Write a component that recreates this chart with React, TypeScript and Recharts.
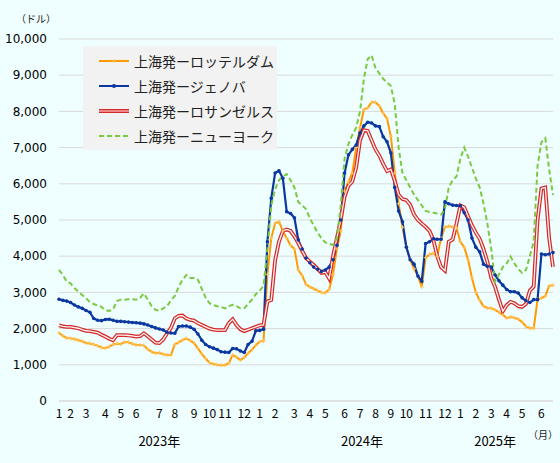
import { LineChart, Line, XAxis, YAxis, CartesianGrid, Legend } from "recharts";

// weekly rates (USD / 40ft), Jan 2023 - Jun 2025
const rotterdam = [
  1880, 1800, 1740, 1730, 1710, 1680, 1650, 1600, 1590, 1560,
  1530, 1480, 1460, 1500, 1560, 1590, 1570, 1630, 1620, 1580,
  1550, 1550, 1530, 1430, 1360, 1320, 1330, 1290, 1270, 1270,
  1560, 1620, 1680, 1730, 1670, 1600, 1450, 1300, 1170, 1060,
  1020, 1000, 990, 990, 1050, 1270, 1210, 1130, 1200, 1320,
  1420, 1540, 1640, 1660, 3500, 4500, 4910, 4950, 4700, 4500,
  4300, 4200, 3620, 3470, 3220, 3150, 3100, 3050, 3000, 2990,
  3080, 3500, 4200, 4700, 5800, 6050, 6300, 7000, 7550, 8050,
  8100, 8250, 8250, 8150, 7950, 7800, 7300, 6300, 5450, 4800,
  4250, 3900, 3650, 3450, 3150, 3960, 4050, 4080, 4000, 4500,
  4800, 4830, 4810, 4780, 4400, 4250, 3900, 3400, 3000, 2780,
  2620, 2570, 2560, 2520, 2450, 2380, 2290, 2320, 2300, 2260,
  2180, 2060, 2010, 2010, 2800, 2840, 2900, 3180, 3200,
];

const genoa = [
  2810, 2780, 2760, 2720, 2650, 2600, 2560, 2500, 2450, 2280,
  2230, 2220, 2250, 2260, 2230, 2200, 2200, 2190, 2180, 2170,
  2160, 2150, 2130, 2100, 2060, 2020, 1990, 1960, 1900, 1880,
  1870, 2060, 2070, 2070, 2040, 1980, 1850, 1680, 1560, 1500,
  1460, 1420, 1360, 1350, 1340, 1450, 1440, 1380, 1340, 1560,
  1650, 1940, 1950, 1980, 4400, 5600, 6300, 6360, 6150, 5230,
  5180, 5060, 4450, 4200, 3950, 3820, 3700, 3640, 3580, 3620,
  3700, 3900, 4300, 5000, 6300, 6800, 6950, 7070, 7400, 7600,
  7700, 7680, 7600, 7580, 7300, 7160, 6850, 5900, 5250, 4950,
  4250, 3900, 3780, 3450, 3310, 4350, 4400, 4480, 4470, 4470,
  5500, 5450, 5410, 5400, 5390, 5200, 5000, 4500, 4250, 4120,
  3780, 3720, 3700, 3480, 3320, 3200, 3080, 3020, 3020, 2980,
  2850, 2770, 2720, 2800, 2800, 4060, 4040, 4060, 4100,
];

const losAngeles = [
  2090, 2060, 2050, 2050, 2030, 2010, 1970, 1940, 1930, 1910,
  1890, 1830, 1780, 1720, 1680, 1820, 1820, 1820, 1810, 1800,
  1780, 1790, 1870, 1790, 1700, 1610, 1600, 1700, 1870, 2020,
  2280, 2350, 2360, 2280, 2240, 2220, 2150, 2100, 2050, 2000,
  1970, 1960, 1960, 1960, 2150, 2260, 2100, 1980, 1930, 1970,
  2010, 2050, 2090, 2100, 2750, 2790, 3890, 4400, 4700, 4740,
  4700, 4550, 4360, 4150, 3950, 3850, 3760, 3650, 3540, 3560,
  3380, 4000, 4500, 5000, 5640, 5950, 6060, 6450, 7200, 7480,
  7460, 7200, 6950, 6780, 6550, 6350, 6400, 6080, 5700, 5580,
  5550, 5420, 5150, 5000, 4900, 4810, 4700, 4450, 4000, 3700,
  3600, 4400, 4460, 4900, 5400, 5350, 5100, 4850, 4650, 4480,
  4200, 3850, 3400, 3150, 2800, 2480, 2650, 2740, 2700, 2620,
  2600, 2680, 3050, 3160, 5000, 5870, 5900, 4500, 3700,
];

const newYork = [
  3620, 3480, 3300, 3250, 3120, 3020, 2930, 2840, 2730, 2680,
  2640, 2600, 2500, 2490, 2530, 2760, 2800, 2800, 2810, 2810,
  2800, 2850, 2970, 2800, 2620, 2520, 2490, 2560, 2620, 2780,
  2900, 3150, 3350, 3480, 3400, 3400, 3350, 3100, 2850, 2700,
  2650, 2620, 2600, 2560, 2620, 2660, 2620, 2560, 2560, 2680,
  2800, 2950, 3050, 3180, 4200, 5400, 5850, 6100, 6200, 6270,
  6100, 5900, 5500, 5400, 5300, 5050, 4850, 4650, 4500, 4380,
  4340, 4310, 4500, 5400, 6700, 7100, 7350, 7550, 8000, 8900,
  9450, 9550, 9200, 9050, 8900, 8800, 8700, 8200, 7000, 6300,
  6100, 5900, 5700, 5550, 5400, 5250, 5220, 5200, 5180, 5150,
  5300, 5900, 6100, 6200, 6700, 7000, 6750, 6450, 6150, 5900,
  5450, 4900, 4200, 3300, 3500, 3700, 3800, 3990, 3800, 3650,
  3540, 3620, 4000, 4400, 6500, 7150, 7260, 6400, 5690,
];

const seriesNames = [
  "上海発ーロッテルダム",
  "上海発ージェノバ",
  "上海発ーロサンゼルス",
  "上海発ーニューヨーク",
];

const monthTickWeeks = [
  0, 3, 7, 12, 16, 20, 26, 30, 35, 39, 43, 48,
  52, 56, 61, 65, 69, 74, 78, 82, 86, 90, 95, 100,
  104, 108, 112, 116, 120, 125,
];
const monthLabels = [
  "1", "2", "3", "4", "5", "6", "7", "8", "9", "10", "11", "12",
  "1", "2", "3", "4", "5", "6", "7", "8", "9", "10", "11", "12",
  "1", "2", "3", "4", "5", "6",
];
const yearTickWeeks = [26, 78.5, 113];
const yearLabels = ["2023年", "2024年", "2025年"];
const yTicks = [0, 1000, 2000, 3000, 4000, 5000, 6000, 7000, 8000, 9000, 10000];

const data = rotterdam.map((v, i) => ({
  week: i,
  rotterdam: v,
  genoa: genoa[i],
  la: losAngeles[i],
  ny: newYork[i],
}));

const ORANGE = "#ff9a00";
const BLUE = "#0a37a0";
const RED = "#d42a2a";
const GREEN = "#7cc940";
const JP = '"Noto Sans CJK JP", sans-serif';

const PlusDot = (props: any) => {
  const { cx, cy, index } = props;
  if (cx == null || cy == null) return null;
  return (
    <path
      key={`p${index}`}
      d={`M${cx - 2},${cy}H${cx + 2}M${cx},${cy - 2}V${cy + 2}`}
      stroke="#ffc45a"
      strokeWidth={1}
    />
  );
};

const Sample = ({ i }: { i: number }) => (
  <svg width={30} height={10} style={{ display: "block" }}>
    {i === 0 && (
      <>
        <line x1={0} y1={5} x2={30} y2={5} stroke={ORANGE} strokeWidth={2} />
        <path d="M13,5H17M15,3V7" stroke="#ffc45a" strokeWidth={1} />
      </>
    )}
    {i === 1 && (
      <>
        <line x1={0} y1={5} x2={30} y2={5} stroke={BLUE} strokeWidth={2} />
        <circle cx={15} cy={5} r={2} fill={BLUE} />
      </>
    )}
    {i === 2 && (
      <>
        <line x1={0} y1={5} x2={30} y2={5} stroke={RED} strokeWidth={4} />
        <line x1={0} y1={5} x2={30} y2={5} stroke="#f4a0a0" strokeWidth={1.6} />
      </>
    )}
    {i === 3 && (
      <line x1={0} y1={5} x2={30} y2={5} stroke={GREEN} strokeWidth={2} strokeDasharray="5 3" />
    )}
  </svg>
);

const LegendBox = () => (
  <div
    style={{
      background: "#f2f2f2",
      width: 194,
      height: 104,
      paddingTop: 2,
      boxSizing: "border-box",
      fontFamily: JP,
      fontSize: 14,
      color: "#222",
    }}
  >
    {seriesNames.map((name, i) => (
      <div key={name} style={{ display: "flex", alignItems: "center", height: 25 }}>
        <div style={{ width: 16 }} />
        <Sample i={i} />
        <div style={{ width: 5 }} />
        <span style={{ whiteSpace: "nowrap" }}>{name}</span>
      </div>
    ))}
  </div>
);

export default function App() {
  return (
    <div
      style={{
        position: "absolute",
        left: 0,
        top: 0,
        width: 560,
        height: 463,
        background: "#effefe",
      }}
    >
      <div style={{ position: "absolute", left: 16, top: 11, fontSize: 10, fontFamily: JP, color: "#222" }}>
        （ドル）
      </div>
      <div style={{ position: "absolute", left: 528, top: 427, fontSize: 10, fontFamily: JP, color: "#222" }}>
        （月）
      </div>
      <LineChart
        width={560}
        height={463}
        data={data}
        margin={{ top: 39, right: 7, left: 0, bottom: 4 }}
      >
        <CartesianGrid vertical={false} stroke="#d9d9d9" />
        <XAxis
          dataKey="week"
          type="number"
          domain={[0, 128]}
          ticks={monthTickWeeks}
          interval={0}
          tickFormatter={(v: number) => monthLabels[monthTickWeeks.indexOf(v)]}
          tickLine={false}
          axisLine={{ stroke: "#d9d9d9" }}
          tick={{ fill: "#000", fontSize: 12, fontFamily: JP }}
          height={28}
        />
        <XAxis
          xAxisId="year"
          dataKey="week"
          type="number"
          domain={[0, 128]}
          ticks={yearTickWeeks}
          interval={0}
          tickFormatter={(v: number) => yearLabels[yearTickWeeks.indexOf(v)]}
          tickLine={false}
          axisLine={false}
          tick={{ fill: "#000", fontSize: 13, fontFamily: JP }}
          height={30}
        />
        <YAxis
          domain={[0, 10000]}
          ticks={yTicks}
          interval={0}
          width={59}
          tickLine={false}
          axisLine={false}
          tickMargin={6}
          tickFormatter={(v: number) => v.toLocaleString("en-US")}
          tick={{ fill: "#000", fontSize: 12, fontFamily: "DejaVu Sans" }}
        />
        <Legend
          layout="vertical"
          align="center"
          verticalAlign="middle"
          wrapperStyle={{ left: 83, top: 46, width: 194 }}
          content={() => <LegendBox />}
        />
        <Line
          dataKey="rotterdam"
          stroke={ORANGE}
          strokeWidth={2}
          dot={PlusDot}
          isAnimationActive={false}
        />
        <Line
          dataKey="genoa"
          stroke={BLUE}
          strokeWidth={2.2}
          dot={{ r: 1.8, fill: BLUE, stroke: BLUE, strokeWidth: 0 }}
          isAnimationActive={false}
        />
        <Line
          dataKey="la"
          stroke={RED}
          strokeWidth={3.8}
          dot={false}
          isAnimationActive={false}
        />
        <Line
          dataKey="la"
          stroke="#fff4f4"
          strokeWidth={1.3}
          dot={false}
          legendType="none"
          isAnimationActive={false}
        />
        <Line
          dataKey="ny"
          stroke={GREEN}
          strokeWidth={2}
          strokeDasharray="5 3"
          dot={false}
          isAnimationActive={false}
        />
      </LineChart>
    </div>
  );
}
